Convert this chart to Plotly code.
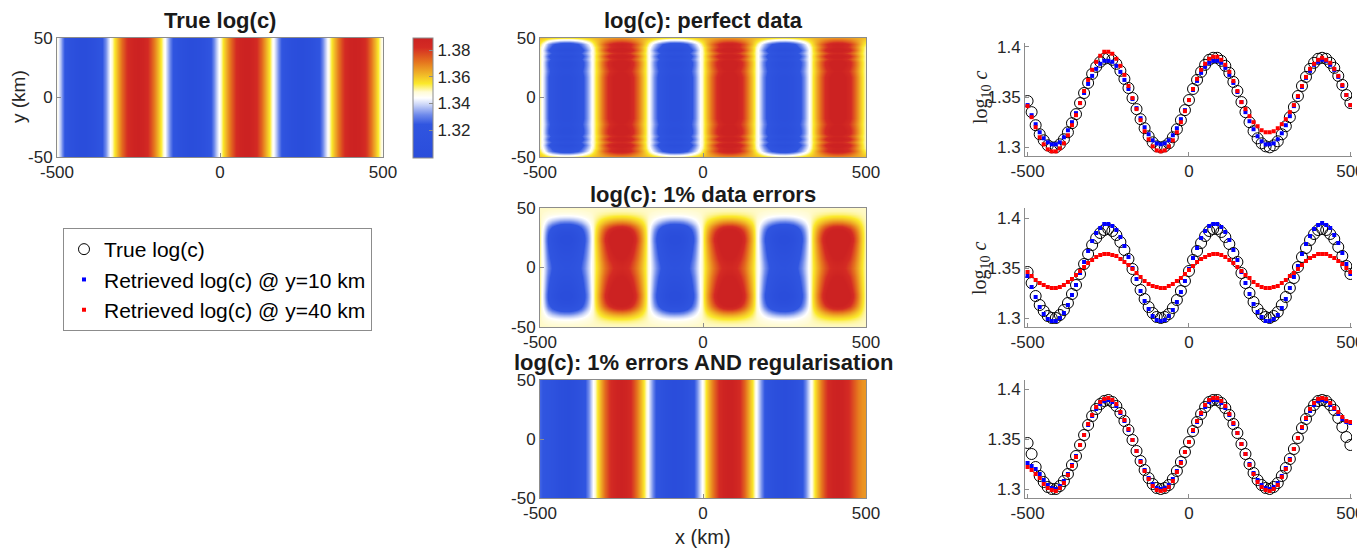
import plotly.graph_objects as go

# ---------------- data ----------------
X_KM = [-500, -487.5, -475, -462.5, -450, -437.5, -425, -412.5, -400, -387.5,
        -375, -362.5, -350, -337.5, -325, -312.5, -300, -287.5, -275, -262.5,
        -250, -237.5, -225, -212.5, -200, -187.5, -175, -162.5, -150, -137.5,
        -125, -112.5, -100, -87.5, -75, -62.5, -50, -37.5, -25, -12.5,
        0, 12.5, 25, 37.5, 50, 62.5, 75, 87.5, 100, 112.5,
        125, 137.5, 150, 162.5, 175, 187.5, 200, 212.5, 225, 237.5,
        250, 262.5, 275, 287.5, 300, 312.5, 325, 337.5, 350, 362.5,
        375, 387.5, 400, 412.5, 425, 437.5, 450, 462.5, 475, 487.5, 500]

TRUE_LOGC = [1.346, 1.335, 1.322, 1.313, 1.307, 1.302, 1.300, 1.300, 1.303, 1.308,
             1.315, 1.324, 1.333, 1.344, 1.354, 1.364, 1.373, 1.380, 1.385, 1.388,
             1.389, 1.387, 1.383, 1.376, 1.368, 1.359, 1.349, 1.338, 1.328, 1.319,
             1.311, 1.305, 1.301, 1.300, 1.301, 1.304, 1.310, 1.318, 1.327, 1.337,
             1.347, 1.358, 1.367, 1.375, 1.382, 1.387, 1.389, 1.389, 1.386, 1.381,
             1.374, 1.365, 1.356, 1.345, 1.335, 1.325, 1.316, 1.309, 1.304, 1.301,
             1.300, 1.302, 1.306, 1.313, 1.321, 1.330, 1.340, 1.351, 1.361, 1.370,
             1.378, 1.384, 1.388, 1.389, 1.388, 1.384, 1.379, 1.371, 1.362, 1.352, 1.344]

# perfect data
PERFECT_Y10 = [1.342, 1.332, 1.323, 1.315, 1.309, 1.305, 1.303, 1.303, 1.305, 1.310,
               1.317, 1.325, 1.334, 1.344, 1.354, 1.363, 1.371, 1.378, 1.383, 1.386,
               1.386, 1.385, 1.381, 1.375, 1.367, 1.358, 1.348, 1.339, 1.329, 1.320,
               1.313, 1.307, 1.304, 1.303, 1.304, 1.307, 1.312, 1.319, 1.328, 1.337,
               1.347, 1.357, 1.366, 1.374, 1.380, 1.384, 1.386, 1.386, 1.384, 1.379,
               1.372, 1.364, 1.355, 1.345, 1.335, 1.326, 1.318, 1.311, 1.306, 1.303,
               1.303, 1.304, 1.308, 1.314, 1.322, 1.331, 1.341, 1.350, 1.360, 1.369,
               1.376, 1.382, 1.385, 1.387, 1.386, 1.382, 1.377, 1.370, 1.361, 1.352, 1.342]
PERFECT_Y40 = [1.341, 1.330, 1.320, 1.310, 1.303, 1.298, 1.296, 1.296, 1.299, 1.304,
               1.312, 1.322, 1.332, 1.344, 1.356, 1.367, 1.377, 1.385, 1.391, 1.395,
               1.395, 1.393, 1.388, 1.381, 1.372, 1.361, 1.349, 1.338, 1.327, 1.316,
               1.308, 1.301, 1.297, 1.296, 1.297, 1.301, 1.307, 1.315, 1.325, 1.336,
               1.347, 1.358, 1.368, 1.377, 1.383, 1.388, 1.390, 1.390, 1.387, 1.382,
               1.375, 1.366, 1.356, 1.345, 1.338, 1.331, 1.325, 1.321, 1.317, 1.315,
               1.315, 1.316, 1.319, 1.323, 1.328, 1.335, 1.342, 1.351, 1.361, 1.370,
               1.378, 1.383, 1.387, 1.389, 1.387, 1.384, 1.378, 1.371, 1.362, 1.352, 1.342]

# 1% data errors
ERRORS_Y10 = [1.342, 1.331, 1.321, 1.311, 1.304, 1.299, 1.297, 1.297, 1.300, 1.305,
              1.313, 1.323, 1.333, 1.345, 1.356, 1.367, 1.377, 1.385, 1.390, 1.394,
              1.394, 1.392, 1.388, 1.381, 1.372, 1.361, 1.350, 1.339, 1.327, 1.317,
              1.309, 1.302, 1.298, 1.297, 1.298, 1.302, 1.308, 1.316, 1.326, 1.337,
              1.349, 1.360, 1.370, 1.380, 1.387, 1.392, 1.394, 1.394, 1.391, 1.386,
              1.378, 1.368, 1.358, 1.346, 1.335, 1.324, 1.314, 1.306, 1.301, 1.297,
              1.297, 1.299, 1.303, 1.310, 1.319, 1.330, 1.341, 1.352, 1.364, 1.374,
              1.382, 1.389, 1.393, 1.395, 1.393, 1.390, 1.383, 1.375, 1.365, 1.354, 1.344]
ERRORS_Y40 = [1.346, 1.342, 1.338, 1.335, 1.333, 1.331, 1.330, 1.330, 1.331, 1.333,
              1.336, 1.339, 1.343, 1.347, 1.351, 1.355, 1.358, 1.361, 1.363, 1.364,
              1.364, 1.363, 1.362, 1.359, 1.356, 1.353, 1.349, 1.345, 1.341, 1.337,
              1.334, 1.332, 1.331, 1.330, 1.330, 1.332, 1.334, 1.337, 1.340, 1.344,
              1.348, 1.352, 1.356, 1.359, 1.361, 1.363, 1.364, 1.364, 1.363, 1.361,
              1.358, 1.355, 1.351, 1.347, 1.343, 1.340, 1.336, 1.333, 1.331, 1.330,
              1.330, 1.331, 1.332, 1.335, 1.338, 1.342, 1.345, 1.349, 1.353, 1.357,
              1.360, 1.362, 1.364, 1.364, 1.364, 1.362, 1.360, 1.357, 1.354, 1.350, 1.346]

# 1% errors AND regularisation
REGUL_Y10 = [1.326, 1.323, 1.320, 1.315, 1.309, 1.304, 1.301, 1.300, 1.303, 1.308,
             1.315, 1.324, 1.333, 1.344, 1.354, 1.364, 1.373, 1.380, 1.385, 1.388,
             1.389, 1.387, 1.383, 1.376, 1.368, 1.359, 1.349, 1.338, 1.328, 1.319,
             1.311, 1.305, 1.301, 1.300, 1.301, 1.304, 1.310, 1.318, 1.327, 1.337,
             1.347, 1.358, 1.367, 1.375, 1.382, 1.387, 1.389, 1.389, 1.386, 1.381,
             1.374, 1.365, 1.356, 1.345, 1.335, 1.325, 1.316, 1.309, 1.304, 1.301,
             1.300, 1.302, 1.306, 1.313, 1.321, 1.330, 1.340, 1.351, 1.361, 1.370,
             1.378, 1.384, 1.388, 1.389, 1.388, 1.384, 1.380, 1.375, 1.370, 1.367, 1.366]
REGUL_Y40 = [1.322, 1.319, 1.315, 1.311, 1.305, 1.301, 1.299, 1.298, 1.301, 1.306,
             1.314, 1.323, 1.332, 1.344, 1.354, 1.365, 1.374, 1.382, 1.387, 1.390,
             1.391, 1.389, 1.385, 1.377, 1.369, 1.360, 1.349, 1.338, 1.327, 1.318,
             1.310, 1.303, 1.299, 1.298, 1.299, 1.302, 1.308, 1.317, 1.326, 1.337,
             1.347, 1.359, 1.368, 1.376, 1.384, 1.389, 1.391, 1.391, 1.388, 1.383,
             1.375, 1.366, 1.356, 1.345, 1.335, 1.324, 1.315, 1.307, 1.302, 1.299,
             1.298, 1.300, 1.304, 1.312, 1.320, 1.329, 1.340, 1.351, 1.362, 1.371,
             1.380, 1.386, 1.390, 1.391, 1.390, 1.386, 1.381, 1.377, 1.372, 1.368, 1.367]

# y-structure of the retrieved maps (estimated from the images)
Y_KM = [-50, -47.5, -45, -42.5, -40, -37.5, -35, -32.5, -30, -27.5, -25, -22.5,
        -20, -17.5, -15, -12.5, -10, -7.5, -5, -2.5, 0, 2.5, 5, 7.5, 10, 12.5,
        15, 17.5, 20, 22.5, 25, 27.5, 30, 32.5, 35, 37.5, 40, 42.5, 45, 47.5, 50]
AMP_PERFECT = [0.15, 0.45, 0.8, 0.85, 1.0, 0.8, 1.0, 0.85, 1.0, 1.0, 0.95, 0.9,
               0.95, 1.0, 1.0, 1.0, 1.0, 1.0, 1.0, 1.0, 1.0, 1.0, 1.0, 1.0, 1.0, 1.0,
               1.0, 1.0, 0.95, 0.9, 0.95, 1.0, 1.0, 0.85, 1.0, 0.8, 1.0, 0.85, 0.8, 0.45, 0.15]
OFF_PERFECT = [0.016, 0.012, 0.008, 0.005, 0.004, 0.004, 0.004, 0.004, 0.004, 0.004, 0.004,
               0.004, 0.004, 0.004, 0.004, 0.004, 0.004, 0.004, 0.004, 0.004, 0.004,
               0.004, 0.004, 0.004, 0.004, 0.004, 0.004, 0.004, 0.004, 0.004, 0.004,
               0.004, 0.004, 0.004, 0.004, 0.004, 0.004, 0.005, 0.008, 0.012, 0.016]
AMP_ERRORS = [0.0, 0.02, 0.07, 0.17, 0.32, 0.5, 0.72, 0.9, 1.02, 1.1, 1.15, 1.15,
              1.1, 1.06, 1.02, 0.98, 0.94, 0.9, 0.85, 0.82, 0.8, 0.82, 0.85, 0.9, 0.94, 0.98,
              1.02, 1.06, 1.1, 1.15, 1.15, 1.1, 1.02, 0.9, 0.72, 0.5, 0.32, 0.17, 0.07, 0.02, 0.0]
OFF_ERRORS = 0.0045
MEAN_LOGC = 1.3445

CB_TICKS = [1.32, 1.34, 1.36, 1.38]
X_TICKS = [-500, 0, 500]
Y_TICKS_MAP = [-50, 0, 50]
Y_TICKS_LINE = [1.3, 1.35, 1.4]

# ---------------- style ----------------
# the page body has an 8px margin, so the figure is drawn 8px in from the window corner
PAGE_OFF = 8
W, H = 1365 - PAGE_OFF, 550 - PAGE_OFF
FONT = "Liberation Sans, Arial, sans-serif"
TXT = "#262626"
AXC = "#8c8c8c"
TICK_SIZE = 17

COLORSCALE = [[0.0, "#2a4ddb"], [0.28, "#3055e0"], [0.36, "#6f8aeb"], [0.44, "#c6d1f7"],
              [0.50, "#ffffff"], [0.55, "#fffbd6"], [0.62, "#fbe92b"], [0.70, "#f0b527"],
              [0.80, "#e5741e"], [0.92, "#d42b23"], [1.0, "#cc2222"]]


def px_x(p):
    return (p - PAGE_OFF) / W


def px_y(p):
    return 1 - (p - PAGE_OFF) / H


def fmt(v):
    return "%g" % v


fig = go.Figure()

MAP_ROWS_Y = [-50, 50]


def field(row):
    return [row, row]


def field_profile(row, amps, offs):
    if not isinstance(offs, list):
        offs = [offs] * len(amps)
    return [[MEAN_LOGC + a * (t - MEAN_LOGC) + o for t in row] for a, o in zip(amps, offs)]


# heatmaps
fig.add_trace(go.Heatmap(x=X_KM, y=MAP_ROWS_Y, z=field(TRUE_LOGC), coloraxis="coloraxis",
                         zsmooth="best", xaxis="x", yaxis="y", hoverinfo="skip"))
fig.add_trace(go.Heatmap(x=X_KM, y=Y_KM, z=field_profile(TRUE_LOGC, AMP_PERFECT, OFF_PERFECT),
                         coloraxis="coloraxis", zsmooth="best", xaxis="x2", yaxis="y2", hoverinfo="skip"))
fig.add_trace(go.Heatmap(x=X_KM, y=Y_KM, z=field_profile(TRUE_LOGC, AMP_ERRORS, OFF_ERRORS),
                         coloraxis="coloraxis", zsmooth="best", xaxis="x3", yaxis="y3", hoverinfo="skip"))
fig.add_trace(go.Heatmap(x=X_KM, y=MAP_ROWS_Y, z=field(REGUL_Y10), coloraxis="coloraxis",
                         zsmooth="best", xaxis="x4", yaxis="y4", hoverinfo="skip"))

# line panels
panels = [(PERFECT_Y10, PERFECT_Y40, "x5", "y5", True),
          (ERRORS_Y10, ERRORS_Y40, "x6", "y6", False),
          (REGUL_Y10, REGUL_Y40, "x7", "y7", False)]
for b, r, xa, ya, show in panels:
    fig.add_trace(go.Scatter(x=X_KM, y=TRUE_LOGC, mode="markers", name="True log(c)",
                             marker=dict(symbol="circle-open", size=11, color="black",
                                         line=dict(width=1, color="black")),
                             xaxis=xa, yaxis=ya, showlegend=show))
    fig.add_trace(go.Scatter(x=X_KM, y=b, mode="markers", name="Retrieved log(c) @ y=10 km",
                             marker=dict(symbol="square", size=4, color="#0000ff"),
                             xaxis=xa, yaxis=ya, showlegend=show))
    fig.add_trace(go.Scatter(x=X_KM, y=r, mode="markers", name="Retrieved log(c) @ y=40 km",
                             marker=dict(symbol="square", size=4, color="#ff0000"),
                             xaxis=xa, yaxis=ya, showlegend=show))

common = dict(showgrid=False, zeroline=False, ticks="inside", ticklen=4, tickcolor=AXC,
              showline=True, linecolor=AXC, linewidth=1, automargin=False,
              tickfont=dict(family=FONT, size=TICK_SIZE, color=TXT))

map_x_dom_left = [px_x(57), px_x(383)]
map_x_dom_mid = [px_x(540), px_x(866)]
line_x_dom = [px_x(1025), px_x(1352)]
row1 = [px_y(157), px_y(38)]
row2 = [px_y(327), px_y(208)]
row3 = [px_y(498), px_y(380)]

layout_axes = {}
map_defs = [("", map_x_dom_left, row1), ("2", map_x_dom_mid, row1),
            ("3", map_x_dom_mid, row2), ("4", map_x_dom_mid, row3)]
for n, dx, dy in map_defs:
    layout_axes["xaxis" + n] = dict(common, domain=dx, anchor="y" + n, range=[-500, 500],
                                    tickvals=X_TICKS, ticktext=[fmt(v) for v in X_TICKS], mirror=True)
    layout_axes["yaxis" + n] = dict(common, domain=dy, anchor="x" + n, range=[-50, 50],
                                    tickvals=Y_TICKS_MAP, ticktext=[fmt(v) for v in Y_TICKS_MAP], mirror=True)

line_defs = [("5", [px_y(156), px_y(43)], [1.2914, 1.4037]),
             ("6", row2, [1.291, 1.41]),
             ("7", row3, [1.291, 1.409])]
for n, dy, yr in line_defs:
    layout_axes["xaxis" + n] = dict(common, domain=line_x_dom, anchor="y" + n, range=[-508, 505],
                                    tickvals=X_TICKS, ticktext=[fmt(v) for v in X_TICKS])
    layout_axes["yaxis" + n] = dict(common, domain=dy, anchor="x" + n, range=yr,
                                    tickvals=Y_TICKS_LINE, ticktext=[fmt(v) for v in Y_TICKS_LINE])

fig.update_layout(**layout_axes)

fig.update_layout(
    width=W, height=H, margin=dict(l=0, r=0, t=0, b=0, pad=0, autoexpand=False),
    paper_bgcolor="white", plot_bgcolor="white",
    font=dict(family=FONT, color=TXT),
    coloraxis=dict(colorscale=COLORSCALE, cmin=1.299, cmax=1.389,
                   colorbar=dict(x=px_x(413), xanchor="left", y=px_y(38), yanchor="top",
                                 len=120 / H, lenmode="fraction", thickness=20,
                                 outlinecolor=AXC, outlinewidth=1, xpad=0, ypad=0,
                                 tickvals=CB_TICKS, ticktext=["%.2f" % v for v in CB_TICKS],
                                 ticks="inside", ticklen=4, tickcolor=AXC,
                                 tickfont=dict(family=FONT, size=TICK_SIZE, color=TXT))),
    legend=dict(x=px_x(63), y=px_y(228), xanchor="left", yanchor="top",
                bordercolor=AXC, borderwidth=1, bgcolor="white",
                font=dict(family=FONT, size=21, color="black"),
                itemwidth=30, tracegroupgap=0),
)

ann = []
titles = [("True log(c)", 220, 20), ("log(c): perfect data", 703, 20),
          ("log(c): 1% data errors", 703, 194), ("log(c): 1% errors AND regularisation", 703, 362)]
for t, x, y in titles:
    ann.append(dict(text="<b>" + t + "</b>", x=px_x(x), y=px_y(y), xref="paper", yref="paper",
                    xanchor="center", yanchor="middle", showarrow=False,
                    font=dict(family=FONT, size=22, color="#1a1a1a")))
ann.append(dict(text="y (km)", x=px_x(18), y=px_y(97), xref="paper", yref="paper",
                xanchor="center", yanchor="middle", showarrow=False, textangle=-90,
                font=dict(family=FONT, size=19, color=TXT)))
ann.append(dict(text="x (km)", x=px_x(703), y=px_y(537), xref="paper", yref="paper",
                xanchor="center", yanchor="middle", showarrow=False,
                font=dict(family=FONT, size=20, color=TXT)))
for yy in (97, 268):
    ann.append(dict(text="log<sub>10</sub> <i>c</i>", x=px_x(981), y=px_y(yy), xref="paper", yref="paper",
                    xanchor="center", yanchor="middle", showarrow=False, textangle=-90,
                    font=dict(family="Liberation Serif, Times New Roman, serif", size=20, color=TXT)))
fig.update_layout(annotations=ann)

fig.write_html("out.html")
